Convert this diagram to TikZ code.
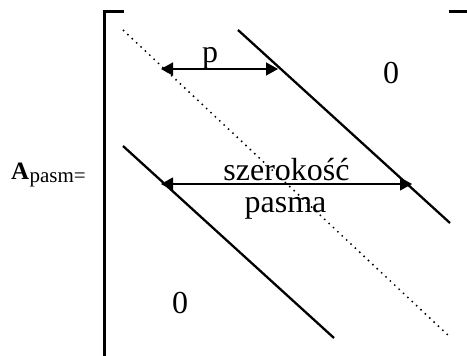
\documentclass[tikz,border=0pt]{standalone}
\usepackage{fontspec}
\setmainfont{Liberation Serif}
\usetikzlibrary{arrows.meta}
\begin{document}
\begin{tikzpicture}[x=1pt,y=-1pt,
  bracketline/.style={line width=3pt},
  bandline/.style={line width=2.3pt},
  diagline/.style={line width=1.5pt,dash pattern=on 1.5pt off 4.5pt},
  dimarrow/.style={line width=1.6pt,{Triangle[length=12pt,width=13pt]}-{Triangle[length=12pt,width=13pt]}},
  txt/.style={inner sep=0pt,anchor=base,font=\fontsize{32}{34}\selectfont}
]
\useasboundingbox (0,0) rectangle (467,356);
% bracket
\coordinate (bl0) at (124,11);
\coordinate (bl1) at (104,11);
\coordinate (bl2) at (104,356);
\coordinate (br0) at (449,11);
\coordinate (br1) at (467,11);
\draw[bracketline] (bl0) -- (bl1) -- (bl2);
\draw[bracketline] (br0) -- (br1);
% diagonals
\coordinate (d0) at (123,30);
\coordinate (d1) at (450,337);
\draw[diagline] (d0) -- (d1);
\coordinate (u0) at (238,30);
\coordinate (u1) at (450,223);
\draw[bandline] (u0) -- (u1);
\coordinate (l0) at (123,146);
\coordinate (l1) at (334,338);
\draw[bandline] (l0) -- (l1);
% p arrow
\coordinate (p0) at (161,69);
\coordinate (p1) at (278,69);
\draw[dimarrow] (p0) -- (p1);
\node[txt] (plabel) at (210,62) {p};
% width arrow
\coordinate (s0) at (161,184);
\coordinate (s1) at (412,184);
\draw[dimarrow,line width=1.1pt] (s0) -- (s1);
\node[txt] (sz) at (286.5,180) {szerokość};
\node[txt] (pa) at (285.5,212) {pasma};
% zeros
\node[txt] (z1) at (391,83) {0};
\node[txt] (z2) at (180,313) {0};
% label
\node[inner sep=0pt,anchor=base west,font=\fontsize{25}{27}\selectfont\bfseries] (A) at (11,179) {A};
\node[inner sep=0pt,anchor=base west,font=\fontsize{21}{23}\selectfont] (Asub) at (A.base east) [yshift=-3pt] {pasm=};
\end{tikzpicture}
\end{document}
